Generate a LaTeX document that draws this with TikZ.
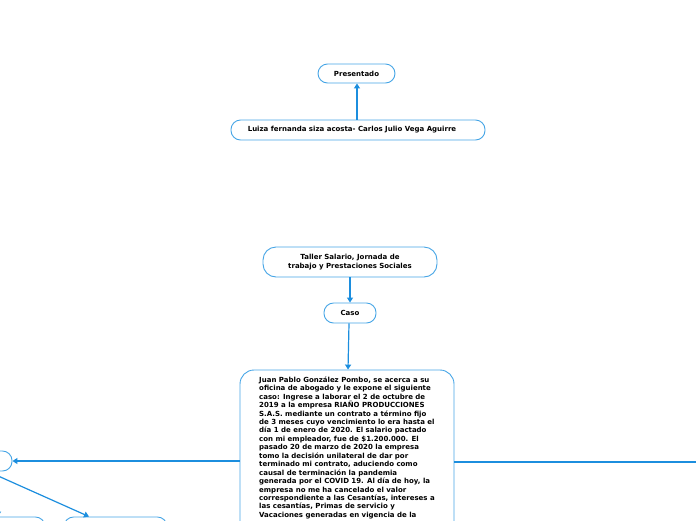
\documentclass[tikz,border=0pt]{standalone}
\usepackage{fontspec}
\setmainfont{DejaVu Sans}
\usetikzlibrary{arrows.meta}
\definecolor{nodeblue}{RGB}{70,165,230}
\definecolor{lineblue}{RGB}{28,142,222}
\tikzset{
  box/.style={draw=nodeblue, line width=0.9pt, fill=white, rounded corners=9.5pt,
    minimum height=20pt, inner sep=0pt, font=\fontsize{7}{8.6}\selectfont\bfseries, align=center},
  conn/.style={draw=lineblue, line width=1.2pt, -{Triangle[width=6pt,length=5pt]}},
  plain/.style={draw=lineblue, line width=1.2pt}
}
\begin{document}
\begin{tikzpicture}[x=1pt,y=-1pt]
\useasboundingbox (0,0) rectangle (696,520);
% top group
\node[box, minimum width=77pt, minimum height=19pt] (pres) at (356.5,73.5) {Presentado};
\node[box, minimum width=254pt] (luiza) at (358,130) {Luiza fernanda siza acosta- Carlos Julio Vega Aguirre\hspace*{12pt}};
\draw[conn] (luiza.north -| 357,0) -- (pres.south -| 357,0);
% main chain
\node[box, minimum width=174pt, minimum height=30pt, rounded corners=13pt] (taller) at (350,262) {Taller Salario, Jornada de\\trabajo y Prestaciones Sociales};
\node[box, minimum width=52pt] (caso) at (350,313) {Caso};
\node[draw=nodeblue, line width=0.9pt, rounded corners=14pt, minimum width=214pt, minimum height=270pt, inner sep=0pt] (big) at (347,505) {};
\node[anchor=north west, inner sep=0pt, align=left, font=\fontsize{7}{8.44}\selectfont\bfseries] (bigtext) at (259,376.5) {Juan Pablo González Pombo, se acerca a su\\
oficina de abogado y le expone el siguiente\\
caso: Ingrese a laborar el 2 de octubre de\\
2019 a la empresa RIAÑO PRODUCCIONES\\
S.A.S. mediante un contrato a término fijo\\
de 3 meses cuyo vencimiento lo era hasta el\\
día 1 de enero de 2020. El salario pactado\\
con mi empleador, fue de \$1.200.000. El\\
pasado 20 de marzo de 2020 la empresa\\
tomo la decisión unilateral de dar por\\
terminado mi contrato, aduciendo como\\
causal de terminación la pandemia\\
generada por el COVID 19. Al día de hoy, la\\
empresa no me ha cancelado el valor\\
correspondiente a las Cesantías, intereses a\\
las cesantías, Primas de servicio y\\
Vacaciones generadas en vigencia de la};
\draw[conn] (taller.south) -- (caso.north);
\draw[conn] (caso.south -| 349,0) -- (big.north -| 348,0);
% off-page neighbours
\node[box, minimum width=104pt] (left) at (-40,461) {};
\node[box, minimum width=95pt] (bl) at (-2.5,527) {};
\node[box, minimum width=103pt] (bm) at (115.5,527) {};
\node[box, minimum width=120pt] (right) at (760,462) {};
\draw[conn] (big.west |- left.east) -- (left.east);
\draw[plain] (big.east |- right.west) -- (right.west);
\draw[conn] ([xshift=28pt]left.south) -- ([xshift=-26.5pt]bm.north);
\draw[conn] (left.south -| -2,0) -- (bl.north -| -2,0);
\end{tikzpicture}
\end{document}
